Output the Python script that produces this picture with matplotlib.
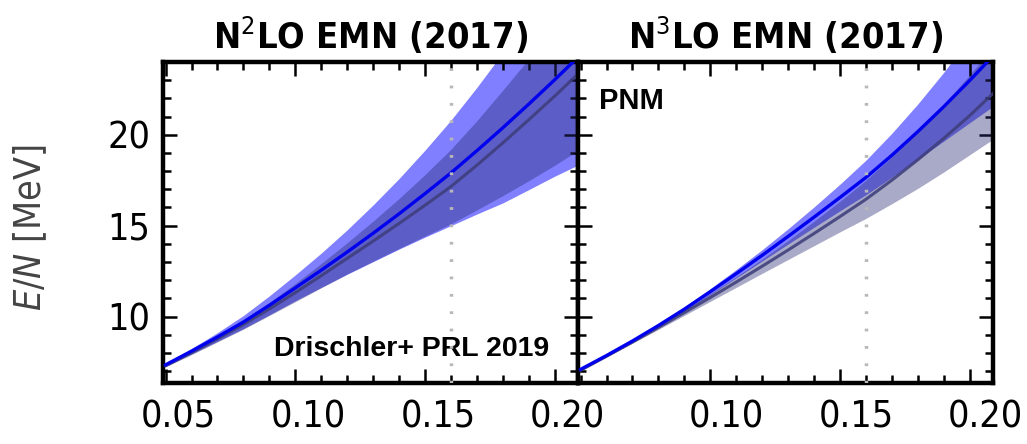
import matplotlib
matplotlib.use("Agg")
import matplotlib.pyplot as plt
from matplotlib.ticker import MultipleLocator
from matplotlib.transforms import ScaledTranslation

# neutron matter energy per particle vs density (fm^-3)
density = [0.05, 0.06, 0.07, 0.08, 0.09, 0.10, 0.11, 0.12, 0.13,
           0.14, 0.15, 0.16, 0.17, 0.18, 0.19, 0.20, 0.21]

# N2LO: blue curve with its band, dark curve with its band
n2lo_central = [7.35, 8.10, 8.88, 9.70, 10.62, 11.58, 12.55, 13.55, 14.58,
                15.65, 16.76, 17.90, 19.12, 20.38, 21.68, 23.02, 24.40]
n2lo_band_lo = [7.26, 7.95, 8.64, 9.34, 10.10, 10.87, 11.61, 12.33, 13.02,
                13.71, 14.37, 15.00, 15.64, 16.25, 16.98, 17.72, 18.40]
n2lo_band_hi = [7.44, 8.25, 9.12, 10.06, 11.14, 12.29, 13.49, 14.77, 16.14,
                17.59, 19.15, 20.80, 22.60, 24.51, 26.38, 28.32, 30.40]
n2lo_ref = [7.30, 8.02, 8.78, 9.57, 10.42, 11.32, 12.25, 13.20, 14.15,
            15.12, 16.12, 17.15, 18.32, 19.55, 20.82, 22.12, 23.48]
n2lo_ref_lo = [7.24, 7.91, 8.61, 9.31, 10.06, 10.82, 11.58, 12.34, 13.05,
               13.75, 14.43, 15.10, 15.87, 16.65, 17.47, 18.32, 19.23]
n2lo_ref_hi = [7.36, 8.13, 8.95, 9.83, 10.78, 11.82, 12.92, 14.06, 15.25,
               16.49, 17.81, 19.20, 20.77, 22.45, 24.17, 25.92, 27.73]

# N3LO
n3lo_central = [7.10, 7.86, 8.66, 9.51, 10.41, 11.37, 12.36, 13.37, 14.41,
                15.47, 16.55, 17.65, 18.87, 20.17, 21.54, 22.98, 24.48]
n3lo_band_lo = [7.07, 7.81, 8.59, 9.42, 10.29, 11.20, 12.13, 13.06, 13.99,
                14.91, 15.82, 16.70, 17.66, 18.65, 19.65, 20.66, 21.66]
n3lo_band_hi = [7.13, 7.91, 8.73, 9.60, 10.53, 11.54, 12.59, 13.68, 14.83,
                16.03, 17.28, 18.60, 20.08, 21.69, 23.43, 25.30, 27.30]
n3lo_ref = [7.05, 7.82, 8.60, 9.40, 10.22, 11.05, 11.90, 12.77, 13.66,
            14.57, 15.50, 16.45, 17.50, 18.62, 19.80, 21.05, 22.40]
n3lo_ref_lo = [7.03, 7.78, 8.54, 9.30, 10.07, 10.84, 11.61, 12.38, 13.14,
               13.90, 14.66, 15.40, 16.21, 17.05, 17.95, 18.90, 19.85]
n3lo_ref_hi = [7.07, 7.86, 8.66, 9.50, 10.37, 11.26, 12.19, 13.16, 14.18,
               15.24, 16.34, 17.50, 18.79, 20.19, 21.68, 23.29, 25.00]

saturation = 0.16
titles = [r"N$^2$LO EMN (2017)", r"N$^3$LO EMN (2017)"]
xticks = [0.05, 0.10, 0.15, 0.20]
yticks = [10, 15, 20]

plt.rcParams["font.family"] = "DejaVu Sans"
plt.rcParams["font.stretch"] = "condensed"
plt.rcParams["mathtext.fontset"] = "dejavusans"

fig = plt.figure(figsize=(10.27, 4.44), dpi=100)
ax1 = fig.add_axes([0.1587, 0.1374, 0.4041, 0.723])
ax2 = fig.add_axes([0.5628, 0.1374, 0.4041, 0.723], sharey=ax1)


def draw_panel(ax, central, lo, hi, ref, ref_lo, ref_hi):
    ax.fill_between(density, lo, hi, color="blue", alpha=0.5, lw=0, zorder=1)
    ax.fill_between(density, ref_lo, ref_hi, color="#2a2a76", alpha=0.4,
                    lw=0, zorder=2)
    ax.plot(density, ref, color="#3c3c78", lw=2.2, alpha=0.85, zorder=3)
    ax.plot(density, central, color="#0000ee", lw=2.4, zorder=4)
    ax.axvline(saturation, color="#b8b8b8", lw=2.5, ls=(0, (0.8, 4.2)),
               zorder=5)
    ax.set_xlim(0.049, 0.209)
    ax.set_ylim(6.35, 24.0)
    ax.set_xticks(xticks)
    ax.set_yticks(yticks)
    ax.xaxis.set_minor_locator(MultipleLocator(0.01))
    ax.yaxis.set_minor_locator(MultipleLocator(1))
    ax.tick_params(which="both", direction="in", top=True, right=True,
                   width=1.8, labelsize=27)
    ax.tick_params(which="major", length=10)
    ax.tick_params(which="minor", length=6)
    ax.tick_params(axis="x", which="major", pad=12)
    ax.tick_params(axis="y", which="major", pad=9)
    for sp in ax.spines.values():
        sp.set_linewidth(3.2)


draw_panel(ax1, n2lo_central, n2lo_band_lo, n2lo_band_hi,
           n2lo_ref, n2lo_ref_lo, n2lo_ref_hi)
draw_panel(ax2, n3lo_central, n3lo_band_lo, n3lo_band_hi,
           n3lo_ref, n3lo_ref_lo, n3lo_ref_hi)

ax2.set_xticks(xticks[1:])
ax2.tick_params(labelleft=False)

for ax, title in zip((ax1, ax2), titles):
    ax.set_title(title, fontsize=26, fontweight="bold", pad=9)

# x labels sit a bit to the right of their ticks
for ax, shift in ((ax1, 13), (ax2, 16)):
    off = ScaledTranslation(shift / 100, 0, fig.dpi_scale_trans)
    for lab in ax.get_xticklabels():
        lab.set_transform(lab.get_transform() + off)

ax1.text(0.93, 0.065, "Drischler+ PRL 2019", transform=ax1.transAxes,
         fontsize=20.5, fontweight="bold", family="Liberation Sans",
         fontstretch="normal", ha="right", va="bottom")
ax2.text(0.05, 0.835, "PNM", transform=ax2.transAxes, fontsize=21,
         fontweight="bold", family="Liberation Sans", fontstretch="normal",
         ha="left", va="bottom")

fig.text(30 / 1027, 1 - 228 / 444, r"$E/N$ [MeV]", rotation=90,
         ha="center", va="center", fontsize=27, color="#444444")

fig.savefig("out.png", dpi=100)
